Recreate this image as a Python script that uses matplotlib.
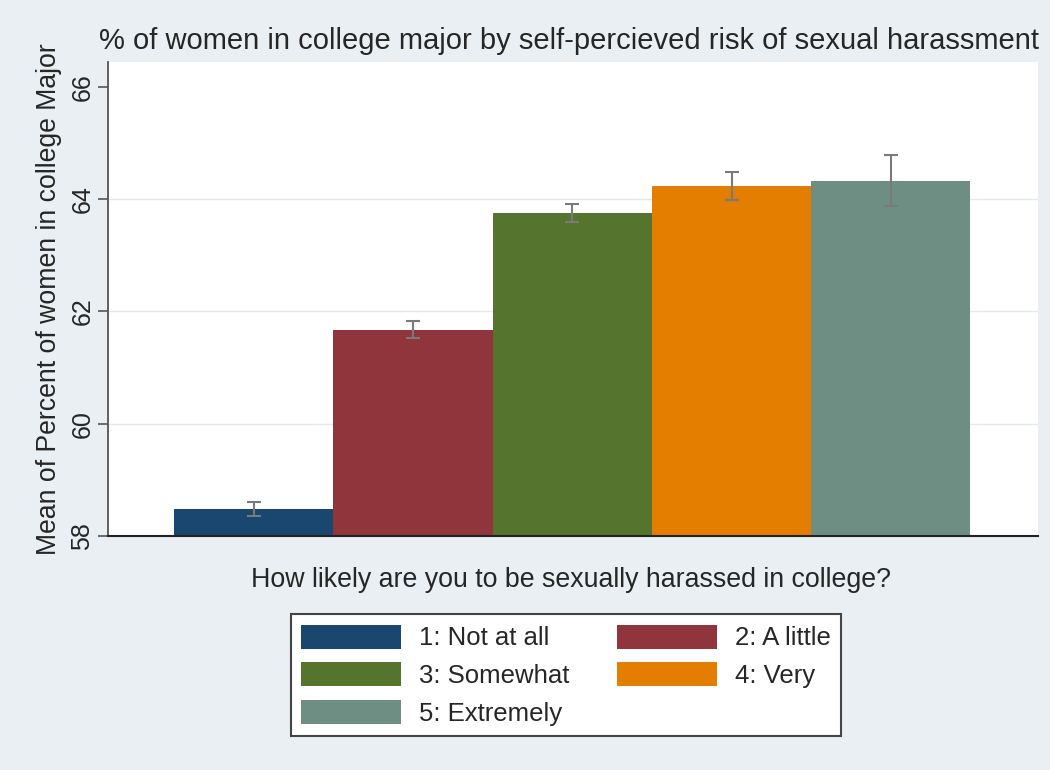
import matplotlib
matplotlib.use("Agg")
import matplotlib.pyplot as plt
from matplotlib.patches import Patch

plt.rcParams['font.family'] = ['Liberation Sans', 'DejaVu Sans']

# group means and half-widths of the error bars
levels = ["1: Not at all", "2: A little", "3: Somewhat", "4: Very", "5: Extremely"]
means = [58.48, 61.67, 63.76, 64.24, 64.33]
errs = [0.13, 0.15, 0.16, 0.25, 0.46]
colors = ["#1a476f", "#90353b", "#55752f", "#e37e00", "#6e8e84"]
yticks = [58, 60, 62, 64, 66]

bg = "#e9eff2"
txt = "#262626"
fig = plt.figure(figsize=(10.5, 7.7), dpi=100, facecolor=bg)
ax = fig.add_axes([0.103, 0.304, 0.886, 0.616])
ax.set_facecolor("white")

x = list(range(len(means)))
ax.bar(x, [m - 58 for m in means], bottom=58, width=1.0, color=colors, zorder=2)
ax.errorbar(x, means, yerr=errs, fmt="none", ecolor="#7a7a7a", elinewidth=1.5,
            capsize=5, capthick=1.5, zorder=3)

ax.set_ylim(58, 66.45)
ax.set_xlim(-0.915, 4.927)
ax.set_yticks(yticks)
ax.set_xticks([])
for g in [60, 62, 64]:
    ax.axhline(g, color="#e4e8ea", lw=1, zorder=1)

for s in ["top", "right"]:
    ax.spines[s].set_visible(False)
ax.spines["left"].set_color("#555555")
ax.spines["left"].set_linewidth(1.3)
ax.spines["bottom"].set_color("#222222")
ax.spines["bottom"].set_linewidth(1.5)
ax.tick_params(axis="y", length=7, width=1.2, color="#555555", labelsize=18,
               labelcolor=txt, pad=3)
plt.setp(ax.get_yticklabels(), rotation=90, va="center")

ax.set_ylabel("Mean of Percent of women in college Major", fontsize=19.2,
              color=txt, labelpad=6)
ax.set_title("% of women in college major by self-percieved risk of sexual harassment",
             fontsize=21, color=txt, pad=9, x=0.495)
fig.text(0.544, 0.247, "How likely are you to be sexually harassed in college?",
         fontsize=19.3, color=txt, ha="center", va="center")

handles = [Patch(facecolor=c, edgecolor="none") for c in colors]
order = [0, 2, 4, 1, 3]
leg = fig.legend([handles[i] for i in order], [levels[i] for i in order],
                 ncol=2, loc="center", bbox_to_anchor=(0.539, 0.123),
                 fontsize=18.5, frameon=True, fancybox=False, framealpha=1,
                 handlelength=3.9, handleheight=1.05, handletextpad=0.7,
                 labelspacing=0.47, columnspacing=1.85, borderpad=0.4,
                 labelcolor=txt)
leg.get_frame().set_edgecolor("#444444")
leg.get_frame().set_linewidth(1.5)
leg.get_frame().set_facecolor("white")

fig.savefig("out.png", dpi=100, facecolor=bg)
